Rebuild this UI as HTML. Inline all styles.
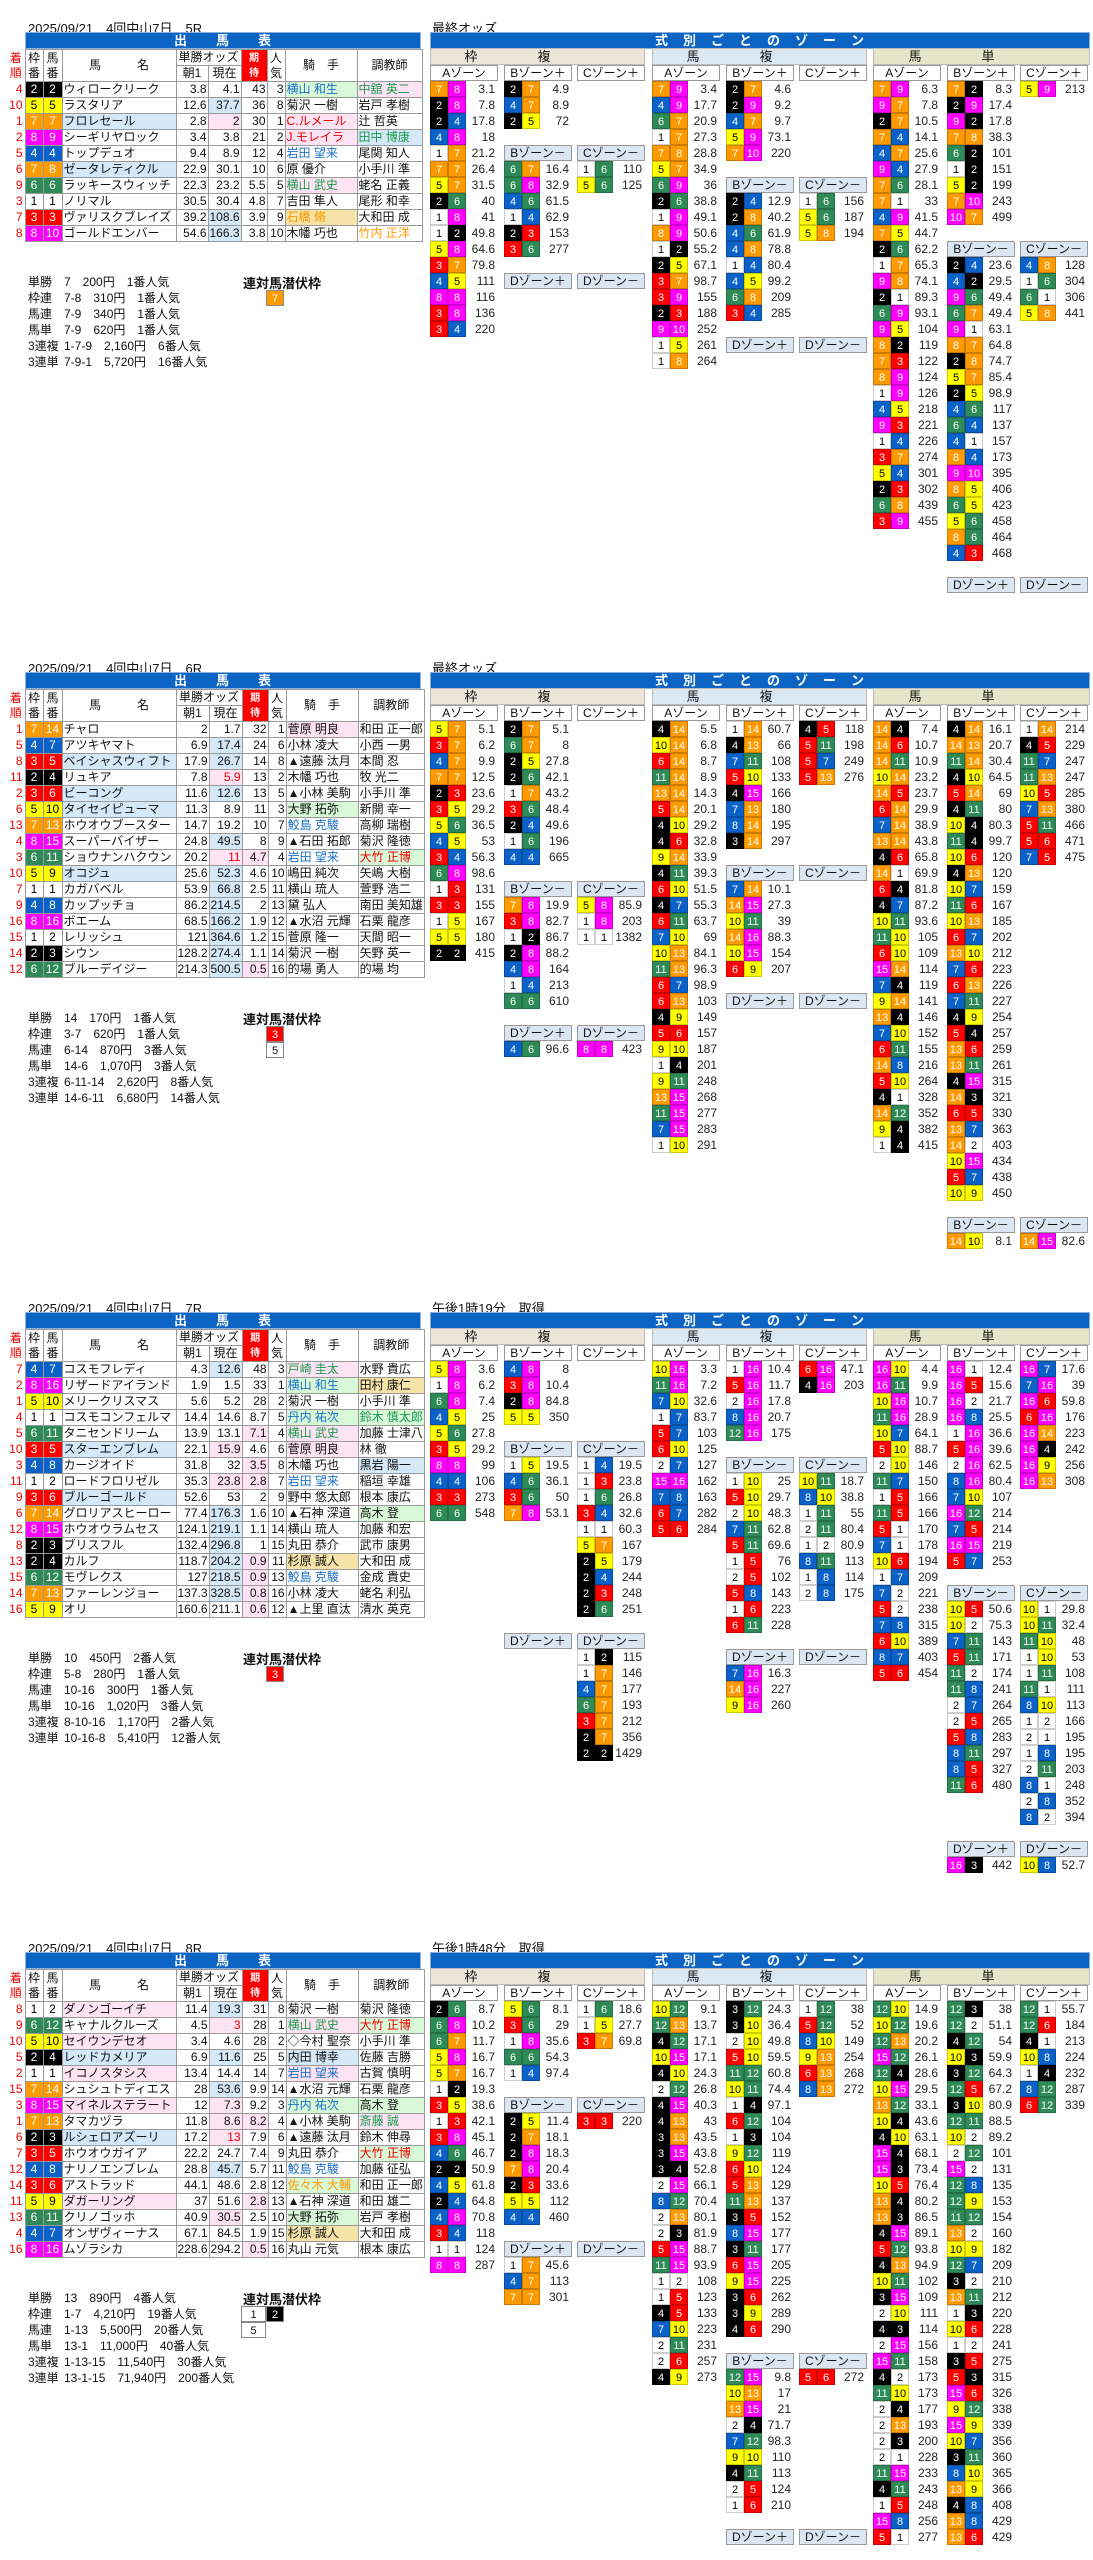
<!DOCTYPE html>
<html><head><meta charset="utf-8">
<style>
body{margin:0;width:1093px;height:2560px;position:relative;font-family:"Liberation Sans","Noto Sans CJK JP",sans-serif;background:#fff;overflow:hidden;color:#111}
.a{position:absolute}
.bar{position:absolute;height:15px;background:#0b63c4;color:#fff;font-weight:bold;font-size:13px;text-align:center;line-height:15px;border:1px solid #8ab0dc;letter-spacing:1px}
.dt{position:absolute;font-size:13px;left:28px}
.z{position:absolute}
.z p{margin:0;height:16px;display:flex}
.z s{display:block;width:18px;height:16px;text-decoration:none;font-size:11px;text-align:center;line-height:16px;color:#fff;box-sizing:border-box;border:1px solid rgba(0,0,0,.2)}
.z em{font-style:normal;width:29px;text-align:right;font-size:12px;line-height:16px;color:#222}
s.w,td.w{background:#fff;color:#000!important}
.k{background:#000;color:#fff}.r{background:#f00;color:#fff}.u{background:#0a62c8;color:#fff}
s.y,td.y{background:#ff0;color:#000!important}.g{background:#2e8b57;color:#fff}.o{background:#ff9a00;color:#fff}.m{background:#f0f;color:#fff}
.zh,.zs{position:absolute;width:66px;height:14px;border:1px solid #999;font-size:12px;text-align:center;line-height:14px;background:#fff}
.zs{background:#dce6f2}
.gh{position:absolute;height:15px;font-size:13px;text-align:center;line-height:15px;letter-spacing:60px;border:1px solid #bbb}
table.t{position:absolute;left:8px;border-collapse:collapse;table-layout:fixed;font-size:12px}
table.t td{height:15px;padding:0 1px;border:1px solid #999;border-top:1px dotted #aaa;white-space:nowrap;overflow:hidden;line-height:15px}
table.t td.n{text-align:right}
table.t td.c{text-align:center}
table.t td.rk{border:none;color:#e00;text-align:right;padding-right:2px}
table.t tr.h td{text-align:center;font-size:12px;background:#fff;border:1px solid #999}
table.t tr.h td.ev{background:#f00;color:#fff;font-weight:bold;font-size:10px}
.pp{background:#fde3f3}.pb{background:#d4e8f8}.pg{background:#d8f8d8}.py{background:#f5e3a7}
.tg{color:#1a9a50}.tb{color:#1a6fc8}.tr{color:#e00}.to{color:#f90}
.res{position:absolute;left:28px;font-size:12px;line-height:16px}
.res span{display:inline-block;width:36px}
.rt{position:absolute;left:243px;font-size:13px;font-weight:bold}
.bx{position:absolute;width:18px;height:16px;font-size:11px;text-align:center;line-height:16px;border:1px solid #888;box-sizing:border-box}
</style></head><body>

<!-- ================= SECTION 1 ================= -->
<div class="dt" style="top:18px">2025/09/21　4回中山7日　5R</div>
<div class="dt" style="top:18px;left:432px">最終オッズ</div>
<div class="bar" style="left:25px;top:32px;width:394px">出　　馬　　表</div>
<div class="bar" style="left:430px;top:32px;width:658px">式　別　ご　と　の　ゾ　ー　ン</div>
<table class="t" style="top:49px">
<colgroup><col style="width:17px"><col style="width:18px"><col style="width:19px"><col style="width:114px"><col style="width:32px"><col style="width:32px"><col style="width:26px"><col style="width:18px"><col style="width:72px"><col style="width:65px"></colgroup>
<tr class="h"><td class="rk" rowspan="2" style="border:none;color:#e00">着<br>順</td><td rowspan="2">枠<br>番</td><td rowspan="2">馬<br>番</td><td rowspan="2">馬　　　名</td><td colspan="2">単勝オッズ</td><td rowspan="2" class="ev">期<br>待</td><td rowspan="2">人<br>気</td><td rowspan="2">騎　手</td><td rowspan="2">調教師</td></tr>
<tr class="h"><td>朝1</td><td>現在</td></tr>
<tr><td class="rk">4</td><td class="c k">2</td><td class="c k">2</td><td>ウィロークリーク</td><td class="n">3.8</td><td class="n">4.1</td><td class="n">43</td><td class="n">3</td><td class="tb pg">横山 和生</td><td class="tg pp">中舘 英二</td></tr>
<tr><td class="rk">10</td><td class="c y">5</td><td class="c y">5</td><td>ラスタリア</td><td class="n">12.6</td><td class="n pb">37.7</td><td class="n">36</td><td class="n">8</td><td>菊沢 一樹</td><td>岩戸 孝樹</td></tr>
<tr><td class="rk">1</td><td class="c o">7</td><td class="c o">7</td><td class="pb">フロレセール</td><td class="n">2.8</td><td class="n pp">2</td><td class="n">30</td><td class="n">1</td><td class="tr pp">C.ルメール</td><td>辻 哲英</td></tr>
<tr><td class="rk">2</td><td class="c m">8</td><td class="c m">9</td><td>シーギリヤロック</td><td class="n">3.4</td><td class="n">3.8</td><td class="n">21</td><td class="n">2</td><td class="tr pp">J.モレイラ</td><td class="tg pb">田中 博康</td></tr>
<tr><td class="rk">5</td><td class="c u">4</td><td class="c u">4</td><td>トップデュオ</td><td class="n">9.4</td><td class="n">8.9</td><td class="n">12</td><td class="n">4</td><td class="tb">岩田 望来</td><td>尾関 知人</td></tr>
<tr><td class="rk">6</td><td class="c o">7</td><td class="c o">8</td><td class="pb">ゼータレティクル</td><td class="n">22.9</td><td class="n">30.1</td><td class="n">10</td><td class="n">6</td><td>原 優介</td><td>小手川 準</td></tr>
<tr><td class="rk">9</td><td class="c g">6</td><td class="c g">6</td><td>ラッキースウィッチ</td><td class="n">22.3</td><td class="n">23.2</td><td class="n">5.5</td><td class="n">5</td><td class="tg pp">横山 武史</td><td>蛯名 正義</td></tr>
<tr><td class="rk">3</td><td class="c w">1</td><td class="c w">1</td><td>ノリマル</td><td class="n">30.5</td><td class="n">30.4</td><td class="n">4.8</td><td class="n">7</td><td>吉田 隼人</td><td>尾形 和幸</td></tr>
<tr><td class="rk">7</td><td class="c r">3</td><td class="c r">3</td><td>ヴァリスクブレイズ</td><td class="n">39.2</td><td class="n pb">108.6</td><td class="n">3.9</td><td class="n">9</td><td class="to py">石橋 脩</td><td>大和田 成</td></tr>
<tr><td class="rk">8</td><td class="c m">8</td><td class="c m">10</td><td>ゴールドエンバー</td><td class="n">54.6</td><td class="n pb">166.3</td><td class="n">3.8</td><td class="n">10</td><td>木幡 巧也</td><td class="to">竹内 正洋</td></tr>
</table>
<div class="res" style="top:274px"><span>単勝</span>7　200円　1番人気<br><span>枠連</span>7-8　310円　1番人気<br><span>馬連</span>7-9　340円　1番人気<br><span>馬単</span>7-9　620円　1番人気<br><span>3連複</span>1-7-9　2,160円　6番人気<br><span>3連単</span>7-9-1　5,720円　16番人気</div>
<div class="rt" style="top:273px">連対馬潜伏枠</div>
<div class="bx o" style="left:266px;top:290px;color:#fff">7</div>

<div class="gh" style="left:430px;top:48px;width:213px;background:#ece5d8">枠複</div>
<div class="gh" style="left:652px;top:48px;width:213px;background:#dbe9f5">馬複</div>
<div class="gh" style="left:873px;top:48px;width:215px;background:#e3e6c8">馬単</div>
<div class="zh" style="left:430px;top:65px">Aゾーン</div><div class="zh" style="left:504px;top:65px">Bゾーン＋</div><div class="zh" style="left:577px;top:65px">Cゾーン＋</div>
<div class="zh" style="left:652px;top:65px">Aゾーン</div><div class="zh" style="left:726px;top:65px">Bゾーン＋</div><div class="zh" style="left:799px;top:65px">Cゾーン＋</div>
<div class="zh" style="left:873px;top:65px">Aゾーン</div><div class="zh" style="left:947px;top:65px">Bゾーン＋</div><div class="zh" style="left:1020px;top:65px">Cゾーン＋</div>

<div class="z" style="left:430px;top:81px"><p><s class=o>7</s><s class=m>8</s><em>3.1</em></p><p><s class=k>2</s><s class=m>8</s><em>7.8</em></p><p><s class=k>2</s><s class=u>4</s><em>17.8</em></p><p><s class=u>4</s><s class=m>8</s><em>18</em></p><p><s class=w>1</s><s class=o>7</s><em>21.2</em></p><p><s class=o>7</s><s class=o>7</s><em>26.4</em></p><p><s class=y>5</s><s class=o>7</s><em>31.5</em></p><p><s class=k>2</s><s class=g>6</s><em>40</em></p><p><s class=w>1</s><s class=m>8</s><em>41</em></p><p><s class=w>1</s><s class=k>2</s><em>49.8</em></p><p><s class=y>5</s><s class=m>8</s><em>64.6</em></p><p><s class=r>3</s><s class=o>7</s><em>79.8</em></p><p><s class=u>4</s><s class=y>5</s><em>111</em></p><p><s class=m>8</s><s class=m>8</s><em>116</em></p><p><s class=r>3</s><s class=m>8</s><em>136</em></p><p><s class=r>3</s><s class=u>4</s><em>220</em></p></div>
<div class="z" style="left:504px;top:81px"><p><s class=k>2</s><s class=o>7</s><em>4.9</em></p><p><s class=u>4</s><s class=o>7</s><em>8.9</em></p><p><s class=k>2</s><s class=y>5</s><em>72</em></p></div>
<div class="zs" style="left:504px;top:145px">Bゾーン－</div><div class="zs" style="left:577px;top:145px">Cゾーン－</div>
<div class="z" style="left:504px;top:161px"><p><s class=g>6</s><s class=o>7</s><em>16.4</em></p><p><s class=g>6</s><s class=m>8</s><em>32.9</em></p><p><s class=u>4</s><s class=g>6</s><em>61.5</em></p><p><s class=w>1</s><s class=u>4</s><em>62.9</em></p><p><s class=k>2</s><s class=r>3</s><em>153</em></p><p><s class=r>3</s><s class=g>6</s><em>277</em></p></div>
<div class="z" style="left:577px;top:161px"><p><s class=w>1</s><s class=g>6</s><em>110</em></p><p><s class=y>5</s><s class=g>6</s><em>125</em></p></div>
<div class="zs" style="left:504px;top:273px">Dゾーン＋</div><div class="zs" style="left:577px;top:273px">Dゾーン－</div>

<div class="z" style="left:652px;top:81px"><p><s class=o>7</s><s class=m>9</s><em>3.4</em></p><p><s class=u>4</s><s class=m>9</s><em>17.7</em></p><p><s class=g>6</s><s class=o>7</s><em>20.9</em></p><p><s class=w>1</s><s class=o>7</s><em>27.3</em></p><p><s class=o>7</s><s class=o>8</s><em>28.8</em></p><p><s class=y>5</s><s class=o>7</s><em>34.9</em></p><p><s class=g>6</s><s class=m>9</s><em>36</em></p><p><s class=k>2</s><s class=g>6</s><em>38.8</em></p><p><s class=w>1</s><s class=m>9</s><em>49.1</em></p><p><s class=o>8</s><s class=m>9</s><em>50.6</em></p><p><s class=w>1</s><s class=k>2</s><em>55.2</em></p><p><s class=k>2</s><s class=y>5</s><em>67.1</em></p><p><s class=r>3</s><s class=o>7</s><em>98.7</em></p><p><s class=r>3</s><s class=m>9</s><em>155</em></p><p><s class=k>2</s><s class=r>3</s><em>188</em></p><p><s class=m>9</s><s class=m>10</s><em>252</em></p><p><s class=w>1</s><s class=y>5</s><em>261</em></p><p><s class=w>1</s><s class=o>8</s><em>264</em></p></div>
<div class="z" style="left:726px;top:81px"><p><s class=k>2</s><s class=o>7</s><em>4.6</em></p><p><s class=k>2</s><s class=m>9</s><em>9.2</em></p><p><s class=u>4</s><s class=o>7</s><em>9.7</em></p><p><s class=y>5</s><s class=m>9</s><em>73.1</em></p><p><s class=o>7</s><s class=m>10</s><em>220</em></p></div>
<div class="zs" style="left:726px;top:177px">Bゾーン－</div><div class="zs" style="left:799px;top:177px">Cゾーン－</div>
<div class="z" style="left:726px;top:193px"><p><s class=k>2</s><s class=u>4</s><em>12.9</em></p><p><s class=k>2</s><s class=o>8</s><em>40.2</em></p><p><s class=u>4</s><s class=g>6</s><em>61.9</em></p><p><s class=u>4</s><s class=o>8</s><em>78.8</em></p><p><s class=w>1</s><s class=u>4</s><em>80.4</em></p><p><s class=u>4</s><s class=y>5</s><em>99.2</em></p><p><s class=g>6</s><s class=o>8</s><em>209</em></p><p><s class=r>3</s><s class=u>4</s><em>285</em></p></div>
<div class="z" style="left:799px;top:193px"><p><s class=w>1</s><s class=g>6</s><em>156</em></p><p><s class=y>5</s><s class=g>6</s><em>187</em></p><p><s class=y>5</s><s class=o>8</s><em>194</em></p></div>
<div class="zs" style="left:726px;top:337px">Dゾーン＋</div><div class="zs" style="left:799px;top:337px">Dゾーン－</div>

<div class="z" style="left:873px;top:81px"><p><s class=o>7</s><s class=m>9</s><em>6.3</em></p><p><s class=m>9</s><s class=o>7</s><em>7.8</em></p><p><s class=k>2</s><s class=o>7</s><em>10.5</em></p><p><s class=o>7</s><s class=u>4</s><em>14.1</em></p><p><s class=u>4</s><s class=o>7</s><em>25.6</em></p><p><s class=m>9</s><s class=u>4</s><em>27.9</em></p><p><s class=o>7</s><s class=g>6</s><em>28.1</em></p><p><s class=o>7</s><s class=w>1</s><em>33</em></p><p><s class=u>4</s><s class=m>9</s><em>41.5</em></p><p><s class=o>7</s><s class=y>5</s><em>44.7</em></p><p><s class=k>2</s><s class=g>6</s><em>62.2</em></p><p><s class=w>1</s><s class=o>7</s><em>65.3</em></p><p><s class=m>9</s><s class=o>8</s><em>74.1</em></p><p><s class=k>2</s><s class=w>1</s><em>89.3</em></p><p><s class=g>6</s><s class=m>9</s><em>93.1</em></p><p><s class=m>9</s><s class=y>5</s><em>104</em></p><p><s class=o>8</s><s class=k>2</s><em>119</em></p><p><s class=o>7</s><s class=r>3</s><em>122</em></p><p><s class=o>8</s><s class=m>9</s><em>124</em></p><p><s class=w>1</s><s class=m>9</s><em>126</em></p><p><s class=u>4</s><s class=y>5</s><em>218</em></p><p><s class=m>9</s><s class=r>3</s><em>221</em></p><p><s class=w>1</s><s class=u>4</s><em>226</em></p><p><s class=r>3</s><s class=o>7</s><em>274</em></p><p><s class=y>5</s><s class=u>4</s><em>301</em></p><p><s class=k>2</s><s class=r>3</s><em>302</em></p><p><s class=g>6</s><s class=o>8</s><em>439</em></p><p><s class=r>3</s><s class=m>9</s><em>455</em></p></div>
<div class="z" style="left:947px;top:81px"><p><s class=o>7</s><s class=k>2</s><em>8.3</em></p><p><s class=k>2</s><s class=m>9</s><em>17.4</em></p><p><s class=m>9</s><s class=k>2</s><em>17.8</em></p><p><s class=o>7</s><s class=o>8</s><em>38.3</em></p><p><s class=g>6</s><s class=k>2</s><em>101</em></p><p><s class=w>1</s><s class=k>2</s><em>151</em></p><p><s class=y>5</s><s class=k>2</s><em>199</em></p><p><s class=o>7</s><s class=m>10</s><em>243</em></p><p><s class=m>10</s><s class=o>7</s><em>499</em></p></div>
<div class="z" style="left:1020px;top:81px"><p><s class=y>5</s><s class=m>9</s><em>213</em></p></div>
<div class="zs" style="left:947px;top:241px">Bゾーン－</div><div class="zs" style="left:1020px;top:241px">Cゾーン－</div>
<div class="z" style="left:947px;top:257px"><p><s class=k>2</s><s class=u>4</s><em>23.6</em></p><p><s class=u>4</s><s class=k>2</s><em>29.5</em></p><p><s class=m>9</s><s class=g>6</s><em>49.4</em></p><p><s class=g>6</s><s class=o>7</s><em>49.4</em></p><p><s class=m>9</s><s class=w>1</s><em>63.1</em></p><p><s class=o>8</s><s class=o>7</s><em>64.8</em></p><p><s class=k>2</s><s class=o>8</s><em>74.7</em></p><p><s class=y>5</s><s class=o>7</s><em>85.4</em></p><p><s class=k>2</s><s class=y>5</s><em>98.9</em></p><p><s class=u>4</s><s class=g>6</s><em>117</em></p><p><s class=g>6</s><s class=u>4</s><em>137</em></p><p><s class=u>4</s><s class=w>1</s><em>157</em></p><p><s class=o>8</s><s class=u>4</s><em>173</em></p><p><s class=m>9</s><s class=m>10</s><em>395</em></p><p><s class=o>8</s><s class=y>5</s><em>406</em></p><p><s class=g>6</s><s class=y>5</s><em>423</em></p><p><s class=y>5</s><s class=g>6</s><em>458</em></p><p><s class=o>8</s><s class=g>6</s><em>464</em></p><p><s class=u>4</s><s class=r>3</s><em>468</em></p></div>
<div class="z" style="left:1020px;top:257px"><p><s class=u>4</s><s class=o>8</s><em>128</em></p><p><s class=w>1</s><s class=g>6</s><em>304</em></p><p><s class=g>6</s><s class=w>1</s><em>306</em></p><p><s class=y>5</s><s class=o>8</s><em>441</em></p></div>
<div class="zs" style="left:947px;top:577px">Dゾーン＋</div><div class="zs" style="left:1020px;top:577px">Dゾーン－</div>

<!-- ================= SECTION 2 ================= -->
<div class="dt" style="top:658px">2025/09/21　4回中山7日　6R</div>
<div class="dt" style="top:658px;left:432px">最終オッズ</div>
<div class="bar" style="left:25px;top:672px;width:394px">出　　馬　　表</div>
<div class="bar" style="left:430px;top:672px;width:658px">式　別　ご　と　の　ゾ　ー　ン</div>
<table class="t" style="top:689px">
<colgroup><col style="width:17px"><col style="width:18px"><col style="width:19px"><col style="width:114px"><col style="width:32px"><col style="width:32px"><col style="width:26px"><col style="width:18px"><col style="width:72px"><col style="width:65px"></colgroup>
<tr class="h"><td class="rk" rowspan="2" style="border:none;color:#e00">着<br>順</td><td rowspan="2">枠<br>番</td><td rowspan="2">馬<br>番</td><td rowspan="2">馬　　　名</td><td colspan="2">単勝オッズ</td><td rowspan="2" class="ev">期<br>待</td><td rowspan="2">人<br>気</td><td rowspan="2">騎　手</td><td rowspan="2">調教師</td></tr>
<tr class="h"><td>朝1</td><td>現在</td></tr>
<tr><td class="rk">1</td><td class="c o">7</td><td class="c o">14</td><td>チャロ</td><td class="n">2</td><td class="n">1.7</td><td class="n">32</td><td class="n">1</td><td class="pp">菅原 明良</td><td>和田 正一郎</td></tr>
<tr><td class="rk">5</td><td class="c u">4</td><td class="c u">7</td><td>アツキヤマト</td><td class="n">6.9</td><td class="n pb">17.4</td><td class="n">24</td><td class="n">6</td><td>小林 凌大</td><td>小西 一男</td></tr>
<tr><td class="rk">8</td><td class="c r">3</td><td class="c r">5</td><td class="pb">ベイシャスウィフト</td><td class="n">17.9</td><td class="n pb">26.7</td><td class="n">14</td><td class="n">8</td><td>▲遠藤 汰月</td><td>本間 忍</td></tr>
<tr><td class="rk">11</td><td class="c k">2</td><td class="c k">4</td><td>リュキア</td><td class="n">7.8</td><td class="n pp tr">5.9</td><td class="n">13</td><td class="n">2</td><td>木幡 巧也</td><td>牧 光二</td></tr>
<tr><td class="rk">2</td><td class="c r">3</td><td class="c r">6</td><td class="pb">ビーコング</td><td class="n">11.6</td><td class="n pb">12.6</td><td class="n">13</td><td class="n">5</td><td>▲小林 美駒</td><td>小手川 準</td></tr>
<tr><td class="rk">6</td><td class="c y">5</td><td class="c y">10</td><td class="pb">タイセイピューマ</td><td class="n">11.3</td><td class="n">8.9</td><td class="n">11</td><td class="n">3</td><td class="pg">大野 拓弥</td><td>新開 幸一</td></tr>
<tr><td class="rk">13</td><td class="c o">7</td><td class="c o">13</td><td>ホウオウブースター</td><td class="n">14.7</td><td class="n">19.2</td><td class="n">10</td><td class="n">7</td><td class="tb">鮫島 克駿</td><td>高柳 瑞樹</td></tr>
<tr><td class="rk">4</td><td class="c m">8</td><td class="c m">15</td><td>スーパーバイザー</td><td class="n">24.8</td><td class="n pb">49.5</td><td class="n">8</td><td class="n">9</td><td>▲石田 拓郎</td><td>菊沢 隆徳</td></tr>
<tr><td class="rk">3</td><td class="c g">6</td><td class="c g">11</td><td>ショウナンハクウン</td><td class="n">20.2</td><td class="n pp tr">11</td><td class="n pp">4.7</td><td class="n">4</td><td class="tb">岩田 望来</td><td class="tr pg">大竹 正博</td></tr>
<tr><td class="rk">10</td><td class="c y">5</td><td class="c y">9</td><td class="pb">オコジュ</td><td class="n">25.6</td><td class="n pb">52.3</td><td class="n">4.6</td><td class="n">10</td><td>嶋田 純次</td><td>矢嶋 大樹</td></tr>
<tr><td class="rk">7</td><td class="c w">1</td><td class="c w">1</td><td>カガバベル</td><td class="n">53.9</td><td class="n pb">66.8</td><td class="n">2.5</td><td class="n">11</td><td>横山 琉人</td><td>萱野 浩二</td></tr>
<tr><td class="rk">9</td><td class="c u">4</td><td class="c u">8</td><td>カップッチョ</td><td class="n">86.2</td><td class="n pb">214.5</td><td class="n">2</td><td class="n">13</td><td>黛 弘人</td><td>南田 美知雄</td></tr>
<tr><td class="rk">16</td><td class="c m">8</td><td class="c m">16</td><td>ボエーム</td><td class="n">68.5</td><td class="n pb">166.2</td><td class="n">1.9</td><td class="n">12</td><td>▲水沼 元輝</td><td>石栗 龍彦</td></tr>
<tr><td class="rk">15</td><td class="c w">1</td><td class="c w">2</td><td>レリッシュ</td><td class="n">121</td><td class="n pb">364.6</td><td class="n">1.2</td><td class="n">15</td><td>菅原 隆一</td><td>天間 昭一</td></tr>
<tr><td class="rk">14</td><td class="c k">2</td><td class="c k">3</td><td>シウン</td><td class="n">128.2</td><td class="n pb">274.4</td><td class="n">1.1</td><td class="n">14</td><td>菊沢 一樹</td><td>矢野 英一</td></tr>
<tr><td class="rk">12</td><td class="c g">6</td><td class="c g">12</td><td>ブルーデイジー</td><td class="n">214.3</td><td class="n pb">500.5</td><td class="n pp">0.5</td><td class="n">16</td><td>的場 勇人</td><td>的場 均</td></tr>
</table>
<div class="res" style="top:1010px"><span>単勝</span>14　170円　1番人気<br><span>枠連</span>3-7　620円　1番人気<br><span>馬連</span>6-14　870円　3番人気<br><span>馬単</span>14-6　1,070円　3番人気<br><span>3連複</span>6-11-14　2,620円　8番人気<br><span>3連単</span>14-6-11　6,680円　14番人気</div>
<div class="rt" style="top:1009px">連対馬潜伏枠</div>
<div class="bx r" style="left:266px;top:1026px">3</div>
<div class="bx y" style="left:266px;top:1042px">5</div>

<div class="gh" style="left:430px;top:688px;width:213px;background:#ece5d8">枠複</div>
<div class="gh" style="left:652px;top:688px;width:213px;background:#dbe9f5">馬複</div>
<div class="gh" style="left:873px;top:688px;width:215px;background:#e3e6c8">馬単</div>
<div class="zh" style="left:430px;top:705px">Aゾーン</div><div class="zh" style="left:504px;top:705px">Bゾーン＋</div><div class="zh" style="left:577px;top:705px">Cゾーン＋</div>
<div class="zh" style="left:652px;top:705px">Aゾーン</div><div class="zh" style="left:726px;top:705px">Bゾーン＋</div><div class="zh" style="left:799px;top:705px">Cゾーン＋</div>
<div class="zh" style="left:873px;top:705px">Aゾーン</div><div class="zh" style="left:947px;top:705px">Bゾーン＋</div><div class="zh" style="left:1020px;top:705px">Cゾーン＋</div>

<div class="z" style="left:430px;top:721px"><p><s class=y>5</s><s class=o>7</s><em>5.1</em></p><p><s class=r>3</s><s class=o>7</s><em>6.2</em></p><p><s class=u>4</s><s class=o>7</s><em>9.9</em></p><p><s class=o>7</s><s class=o>7</s><em>12.5</em></p><p><s class=k>2</s><s class=r>3</s><em>23.6</em></p><p><s class=r>3</s><s class=y>5</s><em>29.2</em></p><p><s class=y>5</s><s class=g>6</s><em>36.5</em></p><p><s class=u>4</s><s class=y>5</s><em>53</em></p><p><s class=r>3</s><s class=u>4</s><em>56.3</em></p><p><s class=g>6</s><s class=m>8</s><em>98.6</em></p><p><s class=w>1</s><s class=r>3</s><em>131</em></p><p><s class=r>3</s><s class=r>3</s><em>155</em></p><p><s class=w>1</s><s class=y>5</s><em>167</em></p><p><s class=y>5</s><s class=y>5</s><em>180</em></p><p><s class=k>2</s><s class=k>2</s><em>415</em></p></div>
<div class="z" style="left:504px;top:721px"><p><s class=k>2</s><s class=o>7</s><em>5.1</em></p><p><s class=g>6</s><s class=o>7</s><em>8</em></p><p><s class=k>2</s><s class=y>5</s><em>27.8</em></p><p><s class=k>2</s><s class=g>6</s><em>42.1</em></p><p><s class=w>1</s><s class=o>7</s><em>43.2</em></p><p><s class=r>3</s><s class=g>6</s><em>48.4</em></p><p><s class=k>2</s><s class=u>4</s><em>49.6</em></p><p><s class=w>1</s><s class=g>6</s><em>196</em></p><p><s class=u>4</s><s class=u>4</s><em>665</em></p></div>
<div class="zs" style="left:504px;top:881px">Bゾーン－</div><div class="zs" style="left:577px;top:881px">Cゾーン－</div>
<div class="z" style="left:504px;top:897px"><p><s class=o>7</s><s class=m>8</s><em>19.9</em></p><p><s class=r>3</s><s class=m>8</s><em>82.7</em></p><p><s class=w>1</s><s class=k>2</s><em>86.7</em></p><p><s class=k>2</s><s class=m>8</s><em>88.2</em></p><p><s class=u>4</s><s class=m>8</s><em>164</em></p><p><s class=w>1</s><s class=u>4</s><em>213</em></p><p><s class=g>6</s><s class=g>6</s><em>610</em></p></div>
<div class="z" style="left:577px;top:897px"><p><s class=y>5</s><s class=m>8</s><em>85.9</em></p><p><s class=w>1</s><s class=m>8</s><em>203</em></p><p><s class=w>1</s><s class=w>1</s><em>1382</em></p></div>
<div class="zs" style="left:504px;top:1025px">Dゾーン＋</div><div class="zs" style="left:577px;top:1025px">Dゾーン－</div>
<div class="z" style="left:504px;top:1041px"><p><s class=u>4</s><s class=g>6</s><em>96.6</em></p></div>
<div class="z" style="left:577px;top:1041px"><p><s class=m>8</s><s class=m>8</s><em>423</em></p></div>

<div class="z" style="left:652px;top:721px"><p><s class=k>4</s><s class=o>14</s><em>5.5</em></p><p><s class=y>10</s><s class=o>14</s><em>6.8</em></p><p><s class=r>6</s><s class=o>14</s><em>8.7</em></p><p><s class=g>11</s><s class=o>14</s><em>8.9</em></p><p><s class=o>13</s><s class=o>14</s><em>14.3</em></p><p><s class=r>5</s><s class=o>14</s><em>20.1</em></p><p><s class=k>4</s><s class=y>10</s><em>29.2</em></p><p><s class=k>4</s><s class=r>6</s><em>32.8</em></p><p><s class=y>9</s><s class=o>14</s><em>33.9</em></p><p><s class=k>4</s><s class=g>11</s><em>39.3</em></p><p><s class=r>6</s><s class=y>10</s><em>51.5</em></p><p><s class=k>4</s><s class=u>7</s><em>55.3</em></p><p><s class=r>6</s><s class=g>11</s><em>63.7</em></p><p><s class=u>7</s><s class=y>10</s><em>69</em></p><p><s class=y>10</s><s class=o>13</s><em>84.1</em></p><p><s class=g>11</s><s class=o>13</s><em>96.3</em></p><p><s class=r>6</s><s class=u>7</s><em>98.9</em></p><p><s class=r>6</s><s class=o>13</s><em>103</em></p><p><s class=k>4</s><s class=y>9</s><em>149</em></p><p><s class=r>5</s><s class=r>6</s><em>157</em></p><p><s class=y>9</s><s class=y>10</s><em>187</em></p><p><s class=w>1</s><s class=k>4</s><em>201</em></p><p><s class=y>9</s><s class=g>11</s><em>248</em></p><p><s class=o>13</s><s class=m>15</s><em>268</em></p><p><s class=g>11</s><s class=m>15</s><em>277</em></p><p><s class=u>7</s><s class=m>15</s><em>283</em></p><p><s class=w>1</s><s class=y>10</s><em>291</em></p></div>
<div class="z" style="left:726px;top:721px"><p><s class=w>1</s><s class=o>14</s><em>60.7</em></p><p><s class=k>4</s><s class=o>13</s><em>66</em></p><p><s class=u>7</s><s class=g>11</s><em>108</em></p><p><s class=r>5</s><s class=y>10</s><em>133</em></p><p><s class=k>4</s><s class=m>15</s><em>166</em></p><p><s class=u>7</s><s class=o>13</s><em>180</em></p><p><s class=u>8</s><s class=o>14</s><em>195</em></p><p><s class=k>3</s><s class=o>14</s><em>297</em></p></div>
<div class="z" style="left:799px;top:721px"><p><s class=k>4</s><s class=r>5</s><em>118</em></p><p><s class=r>5</s><s class=g>11</s><em>198</em></p><p><s class=r>5</s><s class=u>7</s><em>249</em></p><p><s class=r>5</s><s class=o>13</s><em>276</em></p></div>
<div class="zs" style="left:726px;top:865px">Bゾーン－</div><div class="zs" style="left:799px;top:865px">Cゾーン－</div>
<div class="z" style="left:726px;top:881px"><p><s class=u>7</s><s class=o>14</s><em>10.1</em></p><p><s class=o>14</s><s class=m>15</s><em>27.3</em></p><p><s class=y>10</s><s class=g>11</s><em>39</em></p><p><s class=o>14</s><s class=m>16</s><em>88.3</em></p><p><s class=y>10</s><s class=m>15</s><em>154</em></p><p><s class=r>6</s><s class=y>9</s><em>207</em></p></div>
<div class="zs" style="left:726px;top:993px">Dゾーン＋</div><div class="zs" style="left:799px;top:993px">Dゾーン－</div>

<div class="z" style="left:873px;top:721px"><p><s class=o>14</s><s class=k>4</s><em>7.4</em></p><p><s class=o>14</s><s class=r>6</s><em>10.7</em></p><p><s class=o>14</s><s class=g>11</s><em>10.9</em></p><p><s class=y>10</s><s class=o>14</s><em>23.2</em></p><p><s class=o>14</s><s class=r>5</s><em>23.7</em></p><p><s class=r>6</s><s class=o>14</s><em>29.9</em></p><p><s class=u>7</s><s class=o>14</s><em>38.9</em></p><p><s class=o>13</s><s class=o>14</s><em>43.8</em></p><p><s class=k>4</s><s class=r>6</s><em>65.8</em></p><p><s class=o>14</s><s class=w>1</s><em>69.9</em></p><p><s class=r>6</s><s class=k>4</s><em>81.8</em></p><p><s class=k>4</s><s class=u>7</s><em>87.2</em></p><p><s class=y>10</s><s class=g>11</s><em>93.6</em></p><p><s class=g>11</s><s class=y>10</s><em>105</em></p><p><s class=r>6</s><s class=y>10</s><em>109</em></p><p><s class=m>15</s><s class=o>14</s><em>114</em></p><p><s class=u>7</s><s class=k>4</s><em>119</em></p><p><s class=y>9</s><s class=o>14</s><em>141</em></p><p><s class=o>13</s><s class=k>4</s><em>146</em></p><p><s class=u>7</s><s class=y>10</s><em>152</em></p><p><s class=r>6</s><s class=g>11</s><em>155</em></p><p><s class=o>14</s><s class=u>8</s><em>216</em></p><p><s class=r>5</s><s class=y>10</s><em>264</em></p><p><s class=k>4</s><s class=w>1</s><em>328</em></p><p><s class=o>14</s><s class=g>12</s><em>352</em></p><p><s class=y>9</s><s class=k>4</s><em>382</em></p><p><s class=w>1</s><s class=k>4</s><em>415</em></p></div>
<div class="z" style="left:947px;top:721px"><p><s class=k>4</s><s class=o>14</s><em>16.1</em></p><p><s class=o>14</s><s class=o>13</s><em>20.7</em></p><p><s class=g>11</s><s class=o>14</s><em>30.4</em></p><p><s class=k>4</s><s class=y>10</s><em>64.5</em></p><p><s class=r>5</s><s class=o>14</s><em>69</em></p><p><s class=k>4</s><s class=g>11</s><em>80</em></p><p><s class=y>10</s><s class=k>4</s><em>80.3</em></p><p><s class=g>11</s><s class=k>4</s><em>99.7</em></p><p><s class=y>10</s><s class=r>6</s><em>120</em></p><p><s class=k>4</s><s class=o>13</s><em>120</em></p><p><s class=y>10</s><s class=u>7</s><em>159</em></p><p><s class=g>11</s><s class=r>6</s><em>167</em></p><p><s class=y>10</s><s class=o>13</s><em>185</em></p><p><s class=r>6</s><s class=u>7</s><em>202</em></p><p><s class=o>13</s><s class=y>10</s><em>212</em></p><p><s class=u>7</s><s class=r>6</s><em>223</em></p><p><s class=r>6</s><s class=o>13</s><em>226</em></p><p><s class=u>7</s><s class=g>11</s><em>227</em></p><p><s class=k>4</s><s class=y>9</s><em>254</em></p><p><s class=r>5</s><s class=k>4</s><em>257</em></p><p><s class=o>13</s><s class=r>6</s><em>259</em></p><p><s class=o>13</s><s class=g>11</s><em>261</em></p><p><s class=k>4</s><s class=m>15</s><em>315</em></p><p><s class=o>14</s><s class=k>3</s><em>321</em></p><p><s class=r>6</s><s class=r>5</s><em>330</em></p><p><s class=o>13</s><s class=u>7</s><em>363</em></p><p><s class=o>14</s><s class=w>2</s><em>403</em></p><p><s class=y>10</s><s class=m>15</s><em>434</em></p><p><s class=r>5</s><s class=u>7</s><em>438</em></p><p><s class=y>10</s><s class=y>9</s><em>450</em></p></div>
<div class="z" style="left:1020px;top:721px"><p><s class=w>1</s><s class=o>14</s><em>214</em></p><p><s class=k>4</s><s class=r>5</s><em>229</em></p><p><s class=g>11</s><s class=u>7</s><em>247</em></p><p><s class=g>11</s><s class=o>13</s><em>247</em></p><p><s class=y>10</s><s class=r>5</s><em>285</em></p><p><s class=u>7</s><s class=o>13</s><em>380</em></p><p><s class=r>5</s><s class=g>11</s><em>466</em></p><p><s class=r>5</s><s class=r>6</s><em>471</em></p><p><s class=u>7</s><s class=r>5</s><em>475</em></p></div>
<div class="zs" style="left:947px;top:1217px">Bゾーン－</div><div class="zs" style="left:1020px;top:1217px">Cゾーン－</div>
<div class="z" style="left:947px;top:1233px"><p><s class=o>14</s><s class=y>10</s><em>8.1</em></p></div>
<div class="z" style="left:1020px;top:1233px"><p><s class=o>14</s><s class=m>15</s><em>82.6</em></p></div>

<!-- ================= SECTION 3 ================= -->
<div class="dt" style="top:1298px">2025/09/21　4回中山7日　7R</div>
<div class="dt" style="top:1298px;left:432px">午後1時19分　取得</div>
<div class="bar" style="left:25px;top:1312px;width:394px">出　　馬　　表</div>
<div class="bar" style="left:430px;top:1312px;width:658px">式　別　ご　と　の　ゾ　ー　ン</div>
<table class="t" style="top:1329px">
<colgroup><col style="width:17px"><col style="width:18px"><col style="width:19px"><col style="width:114px"><col style="width:32px"><col style="width:32px"><col style="width:26px"><col style="width:18px"><col style="width:72px"><col style="width:65px"></colgroup>
<tr class="h"><td class="rk" rowspan="2" style="border:none;color:#e00">着<br>順</td><td rowspan="2">枠<br>番</td><td rowspan="2">馬<br>番</td><td rowspan="2">馬　　　名</td><td colspan="2">単勝オッズ</td><td rowspan="2" class="ev">期<br>待</td><td rowspan="2">人<br>気</td><td rowspan="2">騎　手</td><td rowspan="2">調教師</td></tr>
<tr class="h"><td>朝1</td><td>現在</td></tr>
<tr><td class="rk">7</td><td class="c u">4</td><td class="c u">7</td><td>コスモフレディ</td><td class="n">4.3</td><td class="n pb">12.6</td><td class="n">48</td><td class="n">3</td><td class="tg pp">戸崎 圭太</td><td>水野 貴広</td></tr>
<tr><td class="rk">2</td><td class="c m">8</td><td class="c m">16</td><td>リザードアイランド</td><td class="n">1.9</td><td class="n">1.5</td><td class="n">33</td><td class="n">1</td><td class="tb pg">横山 和生</td><td class="py">田村 康仁</td></tr>
<tr><td class="rk">1</td><td class="c y">5</td><td class="c y">10</td><td>メリークリスマス</td><td class="n">5.6</td><td class="n">5.2</td><td class="n">28</td><td class="n">2</td><td>菊沢 一樹</td><td>小手川 準</td></tr>
<tr><td class="rk">4</td><td class="c w">1</td><td class="c w">1</td><td>コスモコンフェルマ</td><td class="n">14.4</td><td class="n">14.6</td><td class="n">8.7</td><td class="n">5</td><td class="tb pg">丹内 祐次</td><td class="tg pg">鈴木 慎太郎</td></tr>
<tr><td class="rk">5</td><td class="c g">6</td><td class="c g">11</td><td>タニセンドリーム</td><td class="n">13.9</td><td class="n">13.1</td><td class="n pp">7.1</td><td class="n">4</td><td class="tg pp">横山 武史</td><td>加藤 士津八</td></tr>
<tr><td class="rk">10</td><td class="c r">3</td><td class="c r">5</td><td class="pb">スターエンブレム</td><td class="n">22.1</td><td class="n pp">15.9</td><td class="n">4.6</td><td class="n">6</td><td class="pp">菅原 明良</td><td>林 徹</td></tr>
<tr><td class="rk">3</td><td class="c u">4</td><td class="c u">8</td><td>カージオイド</td><td class="n">31.8</td><td class="n">32</td><td class="n pp">3.5</td><td class="n">8</td><td>木幡 巧也</td><td class="pb">黒岩 陽一</td></tr>
<tr><td class="rk">11</td><td class="c w">1</td><td class="c w">2</td><td>ロードフロリゼル</td><td class="n">35.3</td><td class="n pp">23.8</td><td class="n pp">2.8</td><td class="n">7</td><td class="tb">岩田 望来</td><td>稲垣 幸雄</td></tr>
<tr><td class="rk">9</td><td class="c r">3</td><td class="c r">6</td><td class="pb">ブルーゴールド</td><td class="n">52.6</td><td class="n">53</td><td class="n">2</td><td class="n">9</td><td>野中 悠太郎</td><td>根本 康広</td></tr>
<tr><td class="rk">6</td><td class="c o">7</td><td class="c o">14</td><td>グロリアスヒーロー</td><td class="n">77.4</td><td class="n pb">176.3</td><td class="n">1.6</td><td class="n">10</td><td>▲石神 深道</td><td class="pg">高木 登</td></tr>
<tr><td class="rk">12</td><td class="c m">8</td><td class="c m">15</td><td>ホウオウラムセス</td><td class="n">124.1</td><td class="n pb">219.1</td><td class="n">1.1</td><td class="n">14</td><td>横山 琉人</td><td>加藤 和宏</td></tr>
<tr><td class="rk">8</td><td class="c k">2</td><td class="c k">3</td><td>ブリスフル</td><td class="n">132.4</td><td class="n pb">296.8</td><td class="n">1</td><td class="n">15</td><td>丸田 恭介</td><td>武市 康男</td></tr>
<tr><td class="rk">13</td><td class="c k">2</td><td class="c k">4</td><td>カルフ</td><td class="n">118.7</td><td class="n pb">204.2</td><td class="n pp">0.9</td><td class="n">11</td><td class="py">杉原 誠人</td><td>大和田 成</td></tr>
<tr><td class="rk">15</td><td class="c g">6</td><td class="c g">12</td><td>モヴレクス</td><td class="n">127</td><td class="n pb">218.5</td><td class="n pp">0.9</td><td class="n">13</td><td class="tb">鮫島 克駿</td><td>金成 貴史</td></tr>
<tr><td class="rk">14</td><td class="c o">7</td><td class="c o">13</td><td>ファーレンジョー</td><td class="n">137.3</td><td class="n pb">328.5</td><td class="n pp">0.8</td><td class="n">16</td><td>小林 凌大</td><td>蛯名 利弘</td></tr>
<tr><td class="rk">16</td><td class="c y">5</td><td class="c y">9</td><td>オリ</td><td class="n">160.6</td><td class="n">211.1</td><td class="n pp">0.6</td><td class="n">12</td><td>▲上里 直汰</td><td>清水 英克</td></tr>
</table>
<div class="res" style="top:1650px"><span>単勝</span>10　450円　2番人気<br><span>枠連</span>5-8　280円　1番人気<br><span>馬連</span>10-16　300円　1番人気<br><span>馬単</span>10-16　1,020円　3番人気<br><span>3連複</span>8-10-16　1,170円　2番人気<br><span>3連単</span>10-16-8　5,410円　12番人気</div>
<div class="rt" style="top:1649px">連対馬潜伏枠</div>
<div class="bx r" style="left:266px;top:1666px">3</div>

<div class="gh" style="left:430px;top:1328px;width:213px;background:#ece5d8">枠複</div>
<div class="gh" style="left:652px;top:1328px;width:213px;background:#dbe9f5">馬複</div>
<div class="gh" style="left:873px;top:1328px;width:215px;background:#e3e6c8">馬単</div>
<div class="zh" style="left:430px;top:1345px">Aゾーン</div><div class="zh" style="left:504px;top:1345px">Bゾーン＋</div><div class="zh" style="left:577px;top:1345px">Cゾーン＋</div>
<div class="zh" style="left:652px;top:1345px">Aゾーン</div><div class="zh" style="left:726px;top:1345px">Bゾーン＋</div><div class="zh" style="left:799px;top:1345px">Cゾーン＋</div>
<div class="zh" style="left:873px;top:1345px">Aゾーン</div><div class="zh" style="left:947px;top:1345px">Bゾーン＋</div><div class="zh" style="left:1020px;top:1345px">Cゾーン＋</div>

<div class="z" style="left:430px;top:1361px"><p><s class=y>5</s><s class=m>8</s><em>3.6</em></p><p><s class=w>1</s><s class=m>8</s><em>6.2</em></p><p><s class=g>6</s><s class=m>8</s><em>7.4</em></p><p><s class=u>4</s><s class=y>5</s><em>25</em></p><p><s class=y>5</s><s class=g>6</s><em>27.8</em></p><p><s class=r>3</s><s class=y>5</s><em>29.2</em></p><p><s class=m>8</s><s class=m>8</s><em>99</em></p><p><s class=u>4</s><s class=u>4</s><em>106</em></p><p><s class=r>3</s><s class=r>3</s><em>273</em></p><p><s class=g>6</s><s class=g>6</s><em>548</em></p></div>
<div class="z" style="left:504px;top:1361px"><p><s class=u>4</s><s class=m>8</s><em>8</em></p><p><s class=r>3</s><s class=m>8</s><em>10.4</em></p><p><s class=k>2</s><s class=m>8</s><em>84.8</em></p><p><s class=y>5</s><s class=y>5</s><em>350</em></p></div>
<div class="zs" style="left:504px;top:1441px">Bゾーン－</div><div class="zs" style="left:577px;top:1441px">Cゾーン－</div>
<div class="z" style="left:504px;top:1457px"><p><s class=w>1</s><s class=y>5</s><em>19.5</em></p><p><s class=u>4</s><s class=g>6</s><em>36.1</em></p><p><s class=r>3</s><s class=g>6</s><em>50</em></p><p><s class=o>7</s><s class=m>8</s><em>53.1</em></p></div>
<div class="z" style="left:577px;top:1457px"><p><s class=w>1</s><s class=u>4</s><em>19.5</em></p><p><s class=w>1</s><s class=r>3</s><em>23.8</em></p><p><s class=w>1</s><s class=g>6</s><em>26.8</em></p><p><s class=r>3</s><s class=u>4</s><em>32.6</em></p><p><s class=w>1</s><s class=w>1</s><em>60.3</em></p><p><s class=y>5</s><s class=o>7</s><em>167</em></p><p><s class=k>2</s><s class=y>5</s><em>179</em></p><p><s class=k>2</s><s class=u>4</s><em>244</em></p><p><s class=k>2</s><s class=r>3</s><em>248</em></p><p><s class=k>2</s><s class=g>6</s><em>251</em></p></div>
<div class="zs" style="left:504px;top:1633px">Dゾーン＋</div><div class="zs" style="left:577px;top:1633px">Dゾーン－</div>
<div class="z" style="left:577px;top:1649px"><p><s class=w>1</s><s class=k>2</s><em>115</em></p><p><s class=w>1</s><s class=o>7</s><em>146</em></p><p><s class=u>4</s><s class=o>7</s><em>177</em></p><p><s class=g>6</s><s class=o>7</s><em>193</em></p><p><s class=r>3</s><s class=o>7</s><em>212</em></p><p><s class=k>2</s><s class=o>7</s><em>356</em></p><p><s class=k>2</s><s class=k>2</s><em>1429</em></p></div>

<div class="z" style="left:652px;top:1361px"><p><s class=y>10</s><s class=m>16</s><em>3.3</em></p><p><s class=g>11</s><s class=m>16</s><em>7.2</em></p><p><s class=u>7</s><s class=y>10</s><em>32.6</em></p><p><s class=w>1</s><s class=u>7</s><em>83.7</em></p><p><s class=r>5</s><s class=u>7</s><em>103</em></p><p><s class=r>6</s><s class=y>10</s><em>125</em></p><p><s class=w>2</s><s class=u>7</s><em>127</em></p><p><s class=m>15</s><s class=m>16</s><em>162</em></p><p><s class=u>7</s><s class=u>8</s><em>163</em></p><p><s class=r>6</s><s class=u>7</s><em>282</em></p><p><s class=r>5</s><s class=r>6</s><em>284</em></p></div>
<div class="z" style="left:726px;top:1361px"><p><s class=w>1</s><s class=m>16</s><em>10.4</em></p><p><s class=r>5</s><s class=m>16</s><em>11.7</em></p><p><s class=w>2</s><s class=m>16</s><em>17.8</em></p><p><s class=u>8</s><s class=m>16</s><em>20.7</em></p><p><s class=g>12</s><s class=m>16</s><em>175</em></p></div>
<div class="z" style="left:799px;top:1361px"><p><s class=r>6</s><s class=m>16</s><em>47.1</em></p><p><s class=k>4</s><s class=m>16</s><em>203</em></p></div>
<div class="zs" style="left:726px;top:1457px">Bゾーン－</div><div class="zs" style="left:799px;top:1457px">Cゾーン－</div>
<div class="z" style="left:726px;top:1473px"><p><s class=w>1</s><s class=y>10</s><em>25</em></p><p><s class=r>5</s><s class=y>10</s><em>29.7</em></p><p><s class=w>2</s><s class=y>10</s><em>48.3</em></p><p><s class=u>7</s><s class=g>11</s><em>62.8</em></p><p><s class=r>5</s><s class=g>11</s><em>69.6</em></p><p><s class=w>1</s><s class=r>5</s><em>76</em></p><p><s class=w>2</s><s class=r>5</s><em>102</em></p><p><s class=r>5</s><s class=u>8</s><em>143</em></p><p><s class=w>1</s><s class=r>6</s><em>223</em></p><p><s class=r>6</s><s class=g>11</s><em>228</em></p></div>
<div class="z" style="left:799px;top:1473px"><p><s class=y>10</s><s class=g>11</s><em>18.7</em></p><p><s class=u>8</s><s class=y>10</s><em>38.8</em></p><p><s class=w>1</s><s class=g>11</s><em>55</em></p><p><s class=w>2</s><s class=g>11</s><em>80.4</em></p><p><s class=w>1</s><s class=w>2</s><em>80.9</em></p><p><s class=u>8</s><s class=g>11</s><em>113</em></p><p><s class=w>1</s><s class=u>8</s><em>114</em></p><p><s class=w>2</s><s class=u>8</s><em>175</em></p></div>
<div class="zs" style="left:726px;top:1649px">Dゾーン＋</div><div class="zs" style="left:799px;top:1649px">Dゾーン－</div>
<div class="z" style="left:726px;top:1665px"><p><s class=u>7</s><s class=m>16</s><em>16.3</em></p><p><s class=o>14</s><s class=m>16</s><em>227</em></p><p><s class=y>9</s><s class=m>16</s><em>260</em></p></div>

<div class="z" style="left:873px;top:1361px"><p><s class=m>16</s><s class=y>10</s><em>4.4</em></p><p><s class=m>16</s><s class=g>11</s><em>9.9</em></p><p><s class=y>10</s><s class=m>16</s><em>10.7</em></p><p><s class=g>11</s><s class=m>16</s><em>28.9</em></p><p><s class=y>10</s><s class=u>7</s><em>64.1</em></p><p><s class=r>5</s><s class=y>10</s><em>88.7</em></p><p><s class=w>2</s><s class=y>10</s><em>146</em></p><p><s class=g>11</s><s class=u>7</s><em>150</em></p><p><s class=w>1</s><s class=r>5</s><em>166</em></p><p><s class=g>11</s><s class=r>5</s><em>166</em></p><p><s class=r>5</s><s class=w>1</s><em>170</em></p><p><s class=u>7</s><s class=w>1</s><em>178</em></p><p><s class=y>10</s><s class=r>6</s><em>194</em></p><p><s class=w>1</s><s class=u>7</s><em>209</em></p><p><s class=u>7</s><s class=w>2</s><em>221</em></p><p><s class=r>5</s><s class=w>2</s><em>238</em></p><p><s class=u>7</s><s class=u>8</s><em>315</em></p><p><s class=r>6</s><s class=y>10</s><em>389</em></p><p><s class=u>8</s><s class=u>7</s><em>403</em></p><p><s class=r>5</s><s class=r>6</s><em>454</em></p></div>
<div class="z" style="left:947px;top:1361px"><p><s class=m>16</s><s class=w>1</s><em>12.4</em></p><p><s class=m>16</s><s class=r>5</s><em>15.6</em></p><p><s class=m>16</s><s class=w>2</s><em>21.7</em></p><p><s class=m>16</s><s class=u>8</s><em>25.5</em></p><p><s class=w>1</s><s class=m>16</s><em>36.6</em></p><p><s class=r>5</s><s class=m>16</s><em>39.6</em></p><p><s class=w>2</s><s class=m>16</s><em>62.5</em></p><p><s class=u>8</s><s class=m>16</s><em>80.4</em></p><p><s class=u>7</s><s class=y>10</s><em>107</em></p><p><s class=m>16</s><s class=g>12</s><em>214</em></p><p><s class=u>7</s><s class=r>5</s><em>214</em></p><p><s class=m>16</s><s class=m>15</s><em>219</em></p><p><s class=r>5</s><s class=u>7</s><em>253</em></p></div>
<div class="z" style="left:1020px;top:1361px"><p><s class=m>16</s><s class=u>7</s><em>17.6</em></p><p><s class=u>7</s><s class=m>16</s><em>39</em></p><p><s class=m>16</s><s class=r>6</s><em>59.8</em></p><p><s class=r>6</s><s class=m>16</s><em>176</em></p><p><s class=m>16</s><s class=o>14</s><em>223</em></p><p><s class=m>16</s><s class=k>4</s><em>242</em></p><p><s class=m>16</s><s class=y>9</s><em>256</em></p><p><s class=m>16</s><s class=o>13</s><em>308</em></p></div>
<div class="zs" style="left:947px;top:1585px">Bゾーン－</div><div class="zs" style="left:1020px;top:1585px">Cゾーン－</div>
<div class="z" style="left:947px;top:1601px"><p><s class=y>10</s><s class=r>5</s><em>50.6</em></p><p><s class=y>10</s><s class=w>2</s><em>75.3</em></p><p><s class=u>7</s><s class=g>11</s><em>143</em></p><p><s class=r>5</s><s class=g>11</s><em>171</em></p><p><s class=g>11</s><s class=w>2</s><em>174</em></p><p><s class=g>11</s><s class=u>8</s><em>241</em></p><p><s class=w>2</s><s class=u>7</s><em>264</em></p><p><s class=w>2</s><s class=r>5</s><em>265</em></p><p><s class=r>5</s><s class=u>8</s><em>283</em></p><p><s class=u>8</s><s class=g>11</s><em>297</em></p><p><s class=u>8</s><s class=r>5</s><em>327</em></p><p><s class=g>11</s><s class=r>6</s><em>480</em></p></div>
<div class="z" style="left:1020px;top:1601px"><p><s class=y>10</s><s class=w>1</s><em>29.8</em></p><p><s class=y>10</s><s class=g>11</s><em>32.4</em></p><p><s class=g>11</s><s class=y>10</s><em>48</em></p><p><s class=w>1</s><s class=y>10</s><em>53</em></p><p><s class=w>1</s><s class=g>11</s><em>108</em></p><p><s class=g>11</s><s class=w>1</s><em>111</em></p><p><s class=u>8</s><s class=y>10</s><em>113</em></p><p><s class=w>1</s><s class=w>2</s><em>166</em></p><p><s class=w>2</s><s class=w>1</s><em>195</em></p><p><s class=w>1</s><s class=u>8</s><em>195</em></p><p><s class=w>2</s><s class=g>11</s><em>203</em></p><p><s class=u>8</s><s class=w>1</s><em>248</em></p><p><s class=w>2</s><s class=u>8</s><em>352</em></p><p><s class=u>8</s><s class=w>2</s><em>394</em></p></div>
<div class="zs" style="left:947px;top:1841px">Dゾーン＋</div><div class="zs" style="left:1020px;top:1841px">Dゾーン－</div>
<div class="z" style="left:947px;top:1857px"><p><s class=m>16</s><s class=k>3</s><em>442</em></p></div>
<div class="z" style="left:1020px;top:1857px"><p><s class=y>10</s><s class=u>8</s><em>52.7</em></p></div>

<!-- ================= SECTION 4 ================= -->
<div class="dt" style="top:1938px">2025/09/21　4回中山7日　8R</div>
<div class="dt" style="top:1938px;left:432px">午後1時48分　取得</div>
<div class="bar" style="left:25px;top:1952px;width:394px">出　　馬　　表</div>
<div class="bar" style="left:430px;top:1952px;width:658px">式　別　ご　と　の　ゾ　ー　ン</div>
<table class="t" style="top:1969px">
<colgroup><col style="width:17px"><col style="width:18px"><col style="width:19px"><col style="width:114px"><col style="width:32px"><col style="width:32px"><col style="width:26px"><col style="width:18px"><col style="width:72px"><col style="width:65px"></colgroup>
<tr class="h"><td class="rk" rowspan="2" style="border:none;color:#e00">着<br>順</td><td rowspan="2">枠<br>番</td><td rowspan="2">馬<br>番</td><td rowspan="2">馬　　　名</td><td colspan="2">単勝オッズ</td><td rowspan="2" class="ev">期<br>待</td><td rowspan="2">人<br>気</td><td rowspan="2">騎　手</td><td rowspan="2">調教師</td></tr>
<tr class="h"><td>朝1</td><td>現在</td></tr>
<tr><td class="rk">8</td><td class="c w">1</td><td class="c w">2</td><td class="pp">ダノンゴーイチ</td><td class="n">11.4</td><td class="n pb">19.3</td><td class="n">31</td><td class="n">8</td><td>菊沢 一樹</td><td>菊沢 隆徳</td></tr>
<tr><td class="rk">9</td><td class="c g">6</td><td class="c g">12</td><td>キャナルクルーズ</td><td class="n">4.5</td><td class="n pp tr">3</td><td class="n">28</td><td class="n">1</td><td class="tg pp">横山 武史</td><td class="tr pg">大竹 正博</td></tr>
<tr><td class="rk">10</td><td class="c y">5</td><td class="c y">10</td><td class="pp">セイウンデセオ</td><td class="n">3.4</td><td class="n">4.6</td><td class="n">28</td><td class="n">2</td><td>◇今村 聖奈</td><td>小手川 準</td></tr>
<tr><td class="rk">5</td><td class="c k">2</td><td class="c k">4</td><td class="pb">レッドカメリア</td><td class="n">6.9</td><td class="n pb">11.6</td><td class="n">25</td><td class="n">5</td><td class="pb">内田 博幸</td><td>佐藤 吉勝</td></tr>
<tr><td class="rk">2</td><td class="c w">1</td><td class="c w">1</td><td class="pp">イコノスタシス</td><td class="n">13.4</td><td class="n">14.4</td><td class="n">14</td><td class="n">7</td><td class="tb pp">岩田 望来</td><td>古賀 慎明</td></tr>
<tr><td class="rk">15</td><td class="c o">7</td><td class="c o">14</td><td>シュシュトディエス</td><td class="n">28</td><td class="n pb">53.6</td><td class="n">9.9</td><td class="n">14</td><td>▲水沼 元輝</td><td>石栗 龍彦</td></tr>
<tr><td class="rk">3</td><td class="c m">8</td><td class="c m">15</td><td class="pp">マイネルステラート</td><td class="n">12</td><td class="n pp">7.3</td><td class="n">9.2</td><td class="n">3</td><td class="tb pg">丹内 祐次</td><td class="pg">高木 登</td></tr>
<tr><td class="rk">1</td><td class="c o">7</td><td class="c o">13</td><td>タマカヅラ</td><td class="n">11.8</td><td class="n pp">8.6</td><td class="n pp">8.2</td><td class="n">4</td><td>▲小林 美駒</td><td class="tg pp">斎藤 誠</td></tr>
<tr><td class="rk">6</td><td class="c k">2</td><td class="c k">3</td><td class="pb">ルシェロアズーリ</td><td class="n">17.2</td><td class="n pp tr">13</td><td class="n">7.9</td><td class="n">6</td><td>▲遠藤 汰月</td><td>鈴木 伸尋</td></tr>
<tr><td class="rk">7</td><td class="c r">3</td><td class="c r">5</td><td>ホウオウガイア</td><td class="n">22.2</td><td class="n">24.7</td><td class="n">7.4</td><td class="n">9</td><td>丸田 恭介</td><td class="tr pg">大竹 正博</td></tr>
<tr><td class="rk">12</td><td class="c u">4</td><td class="c u">8</td><td>ナリノエンブレム</td><td class="n">28.8</td><td class="n pb">45.7</td><td class="n">5.7</td><td class="n">11</td><td class="tb">鮫島 克駿</td><td>加藤 征弘</td></tr>
<tr><td class="rk">14</td><td class="c r">3</td><td class="c r">6</td><td>アストラッド</td><td class="n">44.1</td><td class="n">48.6</td><td class="n">2.8</td><td class="n">12</td><td class="to pg">佐々木 大輔</td><td>和田 正一郎</td></tr>
<tr><td class="rk">11</td><td class="c y">5</td><td class="c y">9</td><td class="pp">ダガーリング</td><td class="n">37</td><td class="n">51.6</td><td class="n pp">2.8</td><td class="n">13</td><td>▲石神 深道</td><td>和田 雄二</td></tr>
<tr><td class="rk">13</td><td class="c g">6</td><td class="c g">11</td><td>クリノゴッホ</td><td class="n">40.9</td><td class="n pp">30.5</td><td class="n">2.5</td><td class="n">10</td><td class="pg">大野 拓弥</td><td>岩戸 孝樹</td></tr>
<tr><td class="rk">4</td><td class="c u">4</td><td class="c u">7</td><td>オンザヴィーナス</td><td class="n">67.1</td><td class="n">84.5</td><td class="n">1.9</td><td class="n">15</td><td class="py">杉原 誠人</td><td>大和田 成</td></tr>
<tr><td class="rk">16</td><td class="c m">8</td><td class="c m">16</td><td>ムゾラシカ</td><td class="n">228.6</td><td class="n">294.2</td><td class="n pp">0.5</td><td class="n">16</td><td>丸山 元気</td><td>根本 康広</td></tr>
</table>
<div class="res" style="top:2290px"><span>単勝</span>13　890円　4番人気<br><span>枠連</span>1-7　4,210円　19番人気<br><span>馬連</span>1-13　5,500円　20番人気<br><span>馬単</span>13-1　11,000円　40番人気<br><span>3連複</span>1-13-15　11,540円　30番人気<br><span>3連単</span>13-1-15　71,940円　200番人気</div>
<div class="rt" style="top:2289px">連対馬潜伏枠</div>
<div class="bx w" style="left:241px;top:2306px;width:25px">1</div>
<div class="bx k" style="left:266px;top:2306px">2</div>
<div class="bx y" style="left:241px;top:2322px;width:25px">5</div>

<div class="gh" style="left:430px;top:1968px;width:213px;background:#ece5d8">枠複</div>
<div class="gh" style="left:652px;top:1968px;width:213px;background:#dbe9f5">馬複</div>
<div class="gh" style="left:873px;top:1968px;width:215px;background:#e3e6c8">馬単</div>
<div class="zh" style="left:430px;top:1985px">Aゾーン</div><div class="zh" style="left:504px;top:1985px">Bゾーン＋</div><div class="zh" style="left:577px;top:1985px">Cゾーン＋</div>
<div class="zh" style="left:652px;top:1985px">Aゾーン</div><div class="zh" style="left:726px;top:1985px">Bゾーン＋</div><div class="zh" style="left:799px;top:1985px">Cゾーン＋</div>
<div class="zh" style="left:873px;top:1985px">Aゾーン</div><div class="zh" style="left:947px;top:1985px">Bゾーン＋</div><div class="zh" style="left:1020px;top:1985px">Cゾーン＋</div>

<div class="z" style="left:430px;top:2001px"><p><s class=k>2</s><s class=g>6</s><em>8.7</em></p><p><s class=g>6</s><s class=m>8</s><em>10.2</em></p><p><s class=g>6</s><s class=o>7</s><em>11.7</em></p><p><s class=y>5</s><s class=m>8</s><em>16.7</em></p><p><s class=y>5</s><s class=o>7</s><em>16.7</em></p><p><s class=w>1</s><s class=k>2</s><em>19.3</em></p><p><s class=r>3</s><s class=y>5</s><em>38.6</em></p><p><s class=w>1</s><s class=r>3</s><em>42.1</em></p><p><s class=r>3</s><s class=m>8</s><em>45.1</em></p><p><s class=u>4</s><s class=g>6</s><em>46.7</em></p><p><s class=k>2</s><s class=k>2</s><em>50.9</em></p><p><s class=u>4</s><s class=y>5</s><em>61.8</em></p><p><s class=k>2</s><s class=u>4</s><em>64.8</em></p><p><s class=u>4</s><s class=m>8</s><em>70.8</em></p><p><s class=r>3</s><s class=u>4</s><em>118</em></p><p><s class=w>1</s><s class=w>1</s><em>124</em></p><p><s class=m>8</s><s class=m>8</s><em>287</em></p></div>
<div class="z" style="left:504px;top:2001px"><p><s class=y>5</s><s class=g>6</s><em>8.1</em></p><p><s class=r>3</s><s class=g>6</s><em>29</em></p><p><s class=w>1</s><s class=m>8</s><em>35.6</em></p><p><s class=g>6</s><s class=g>6</s><em>54.3</em></p><p><s class=w>1</s><s class=u>4</s><em>97.4</em></p></div>
<div class="z" style="left:577px;top:2001px"><p><s class=w>1</s><s class=g>6</s><em>18.6</em></p><p><s class=w>1</s><s class=y>5</s><em>27.7</em></p><p><s class=r>3</s><s class=o>7</s><em>69.8</em></p></div>
<div class="zs" style="left:504px;top:2097px">Bゾーン－</div><div class="zs" style="left:577px;top:2097px">Cゾーン－</div>
<div class="z" style="left:504px;top:2113px"><p><s class=k>2</s><s class=y>5</s><em>11.4</em></p><p><s class=k>2</s><s class=o>7</s><em>18.1</em></p><p><s class=k>2</s><s class=m>8</s><em>18.3</em></p><p><s class=o>7</s><s class=m>8</s><em>20.4</em></p><p><s class=k>2</s><s class=r>3</s><em>33.6</em></p><p><s class=y>5</s><s class=y>5</s><em>112</em></p><p><s class=u>4</s><s class=u>4</s><em>460</em></p></div>
<div class="z" style="left:577px;top:2113px"><p><s class=r>3</s><s class=r>3</s><em>220</em></p></div>
<div class="zs" style="left:504px;top:2241px">Dゾーン＋</div><div class="zs" style="left:577px;top:2241px">Dゾーン－</div>
<div class="z" style="left:504px;top:2257px"><p><s class=w>1</s><s class=o>7</s><em>45.6</em></p><p><s class=u>4</s><s class=o>7</s><em>113</em></p><p><s class=o>7</s><s class=o>7</s><em>301</em></p></div>

<div class="z" style="left:652px;top:2001px"><p><s class=y>10</s><s class=g>12</s><em>9.1</em></p><p><s class=g>12</s><s class=o>13</s><em>13.7</em></p><p><s class=k>4</s><s class=g>12</s><em>17.1</em></p><p><s class=y>10</s><s class=m>15</s><em>17.1</em></p><p><s class=k>4</s><s class=y>10</s><em>24.3</em></p><p><s class=w>2</s><s class=g>12</s><em>26.8</em></p><p><s class=k>4</s><s class=m>15</s><em>40.3</em></p><p><s class=k>4</s><s class=o>13</s><em>43</em></p><p><s class=k>3</s><s class=o>13</s><em>43.5</em></p><p><s class=k>3</s><s class=m>15</s><em>43.8</em></p><p><s class=k>3</s><s class=k>4</s><em>52.8</em></p><p><s class=w>2</s><s class=m>15</s><em>66.1</em></p><p><s class=u>8</s><s class=g>12</s><em>70.4</em></p><p><s class=w>2</s><s class=o>13</s><em>80.1</em></p><p><s class=w>2</s><s class=k>3</s><em>81.9</em></p><p><s class=r>5</s><s class=m>15</s><em>88.7</em></p><p><s class=g>11</s><s class=m>15</s><em>93.9</em></p><p><s class=w>1</s><s class=w>2</s><em>108</em></p><p><s class=w>1</s><s class=r>5</s><em>123</em></p><p><s class=k>4</s><s class=r>5</s><em>133</em></p><p><s class=u>7</s><s class=y>10</s><em>223</em></p><p><s class=w>2</s><s class=g>11</s><em>231</em></p><p><s class=w>2</s><s class=r>6</s><em>257</em></p><p><s class=k>4</s><s class=y>9</s><em>273</em></p></div>
<div class="z" style="left:726px;top:2001px"><p><s class=k>3</s><s class=g>12</s><em>24.3</em></p><p><s class=k>3</s><s class=y>10</s><em>36.4</em></p><p><s class=w>2</s><s class=y>10</s><em>49.8</em></p><p><s class=r>5</s><s class=y>10</s><em>59.5</em></p><p><s class=g>11</s><s class=g>12</s><em>60.8</em></p><p><s class=y>10</s><s class=g>11</s><em>74.4</em></p><p><s class=w>1</s><s class=k>4</s><em>97.1</em></p><p><s class=r>6</s><s class=g>12</s><em>104</em></p><p><s class=w>1</s><s class=k>3</s><em>104</em></p><p><s class=y>9</s><s class=g>12</s><em>119</em></p><p><s class=r>6</s><s class=y>10</s><em>124</em></p><p><s class=r>5</s><s class=o>13</s><em>129</em></p><p><s class=g>11</s><s class=o>13</s><em>137</em></p><p><s class=k>3</s><s class=r>5</s><em>152</em></p><p><s class=u>8</s><s class=m>15</s><em>177</em></p><p><s class=k>3</s><s class=g>11</s><em>177</em></p><p><s class=r>6</s><s class=m>15</s><em>205</em></p><p><s class=y>9</s><s class=m>15</s><em>225</em></p><p><s class=k>3</s><s class=r>6</s><em>262</em></p><p><s class=k>3</s><s class=y>9</s><em>289</em></p><p><s class=k>4</s><s class=r>6</s><em>290</em></p></div>
<div class="z" style="left:799px;top:2001px"><p><s class=w>1</s><s class=g>12</s><em>38</em></p><p><s class=r>5</s><s class=g>12</s><em>52</em></p><p><s class=u>8</s><s class=y>10</s><em>149</em></p><p><s class=y>9</s><s class=o>13</s><em>254</em></p><p><s class=r>6</s><s class=o>13</s><em>268</em></p><p><s class=u>8</s><s class=o>13</s><em>272</em></p></div>
<div class="zs" style="left:726px;top:2353px">Bゾーン－</div><div class="zs" style="left:799px;top:2353px">Cゾーン－</div>
<div class="z" style="left:726px;top:2369px"><p><s class=g>12</s><s class=m>15</s><em>9.8</em></p><p><s class=y>10</s><s class=o>13</s><em>17</em></p><p><s class=o>13</s><s class=m>15</s><em>21</em></p><p><s class=w>2</s><s class=k>4</s><em>71.7</em></p><p><s class=u>7</s><s class=g>12</s><em>98.3</em></p><p><s class=y>9</s><s class=y>10</s><em>110</em></p><p><s class=k>4</s><s class=g>11</s><em>113</em></p><p><s class=w>2</s><s class=r>5</s><em>124</em></p><p><s class=w>1</s><s class=r>6</s><em>210</em></p></div>
<div class="z" style="left:799px;top:2369px"><p><s class=r>5</s><s class=r>6</s><em>272</em></p></div>
<div class="zs" style="left:726px;top:2529px">Dゾーン＋</div><div class="zs" style="left:799px;top:2529px">Dゾーン－</div>

<div class="z" style="left:873px;top:2001px"><p><s class=g>12</s><s class=y>10</s><em>14.9</em></p><p><s class=y>10</s><s class=g>12</s><em>19.6</em></p><p><s class=g>12</s><s class=o>13</s><em>20.2</em></p><p><s class=m>15</s><s class=g>12</s><em>26.1</em></p><p><s class=g>12</s><s class=k>4</s><em>28.6</em></p><p><s class=y>10</s><s class=m>15</s><em>29.5</em></p><p><s class=o>13</s><s class=g>12</s><em>33.1</em></p><p><s class=y>10</s><s class=k>4</s><em>43.6</em></p><p><s class=k>4</s><s class=y>10</s><em>63.1</em></p><p><s class=m>15</s><s class=k>4</s><em>68.1</em></p><p><s class=m>15</s><s class=k>3</s><em>73.4</em></p><p><s class=y>10</s><s class=r>5</s><em>76.4</em></p><p><s class=o>13</s><s class=k>4</s><em>80.2</em></p><p><s class=o>13</s><s class=k>3</s><em>86.5</em></p><p><s class=k>4</s><s class=m>15</s><em>89.1</em></p><p><s class=r>5</s><s class=g>12</s><em>93.8</em></p><p><s class=k>4</s><s class=o>13</s><em>94.9</em></p><p><s class=y>10</s><s class=g>11</s><em>102</em></p><p><s class=k>3</s><s class=m>15</s><em>109</em></p><p><s class=w>2</s><s class=y>10</s><em>111</em></p><p><s class=k>4</s><s class=k>3</s><em>114</em></p><p><s class=w>2</s><s class=m>15</s><em>156</em></p><p><s class=m>15</s><s class=g>11</s><em>158</em></p><p><s class=k>4</s><s class=w>2</s><em>173</em></p><p><s class=g>11</s><s class=y>10</s><em>173</em></p><p><s class=w>2</s><s class=k>4</s><em>177</em></p><p><s class=w>2</s><s class=o>13</s><em>193</em></p><p><s class=w>2</s><s class=k>3</s><em>200</em></p><p><s class=w>2</s><s class=w>1</s><em>228</em></p><p><s class=g>11</s><s class=m>15</s><em>233</em></p><p><s class=k>4</s><s class=g>11</s><em>243</em></p><p><s class=w>1</s><s class=r>5</s><em>248</em></p><p><s class=m>15</s><s class=u>8</s><em>256</em></p><p><s class=r>5</s><s class=w>1</s><em>277</em></p></div>
<div class="z" style="left:947px;top:2001px"><p><s class=g>12</s><s class=k>3</s><em>38</em></p><p><s class=g>12</s><s class=w>2</s><em>51.1</em></p><p><s class=k>4</s><s class=g>12</s><em>54</em></p><p><s class=y>10</s><s class=k>3</s><em>59.9</em></p><p><s class=k>3</s><s class=g>12</s><em>64.3</em></p><p><s class=g>12</s><s class=r>5</s><em>67.2</em></p><p><s class=k>3</s><s class=y>10</s><em>80.9</em></p><p><s class=g>12</s><s class=g>11</s><em>88.5</em></p><p><s class=y>10</s><s class=w>2</s><em>89.2</em></p><p><s class=w>2</s><s class=g>12</s><em>101</em></p><p><s class=m>15</s><s class=w>2</s><em>131</em></p><p><s class=g>12</s><s class=u>8</s><em>135</em></p><p><s class=g>12</s><s class=y>9</s><em>153</em></p><p><s class=g>11</s><s class=g>12</s><em>154</em></p><p><s class=o>13</s><s class=w>2</s><em>160</em></p><p><s class=y>10</s><s class=y>9</s><em>182</em></p><p><s class=g>12</s><s class=u>7</s><em>209</em></p><p><s class=k>3</s><s class=w>2</s><em>210</em></p><p><s class=o>13</s><s class=g>11</s><em>212</em></p><p><s class=w>1</s><s class=k>3</s><em>220</em></p><p><s class=y>10</s><s class=r>6</s><em>228</em></p><p><s class=w>1</s><s class=w>2</s><em>241</em></p><p><s class=k>3</s><s class=r>5</s><em>275</em></p><p><s class=r>5</s><s class=k>3</s><em>315</em></p><p><s class=m>15</s><s class=r>6</s><em>326</em></p><p><s class=y>9</s><s class=g>12</s><em>338</em></p><p><s class=m>15</s><s class=y>9</s><em>339</em></p><p><s class=y>10</s><s class=u>7</s><em>356</em></p><p><s class=k>3</s><s class=g>11</s><em>360</em></p><p><s class=u>8</s><s class=y>10</s><em>365</em></p><p><s class=o>13</s><s class=y>9</s><em>366</em></p><p><s class=k>4</s><s class=u>8</s><em>408</em></p><p><s class=o>13</s><s class=u>8</s><em>429</em></p><p><s class=o>13</s><s class=r>6</s><em>429</em></p></div>
<div class="z" style="left:1020px;top:2001px"><p><s class=g>12</s><s class=w>1</s><em>55.7</em></p><p><s class=g>12</s><s class=r>6</s><em>184</em></p><p><s class=k>4</s><s class=w>1</s><em>213</em></p><p><s class=y>10</s><s class=u>8</s><em>224</em></p><p><s class=w>1</s><s class=k>4</s><em>232</em></p><p><s class=u>8</s><s class=g>12</s><em>287</em></p><p><s class=r>6</s><s class=g>12</s><em>339</em></p></div>

</body></html>
